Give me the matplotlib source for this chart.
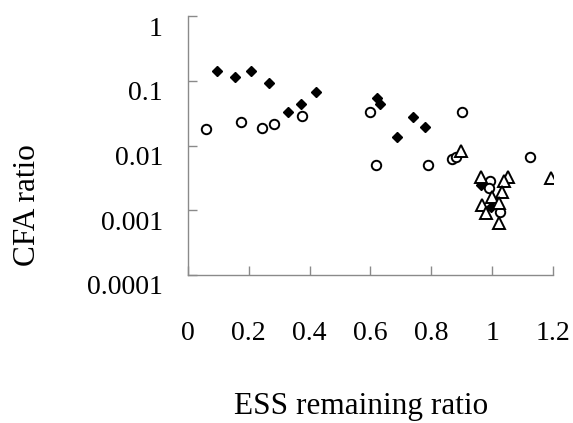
import matplotlib

matplotlib.use("Agg")
import matplotlib.pyplot as plt
import matplotlib.transforms as mtransforms
from matplotlib.ticker import FixedLocator, NullLocator

plt.rcParams["font.family"] = ["Liberation Serif", "DejaVu Serif"]

# series (ESS remaining ratio, CFA ratio)
diamond_x = [0.094, 0.154, 0.206, 0.266, 0.329, 0.373, 0.422, 0.622, 0.630,
             0.740, 0.779, 0.688, 0.962, 0.996]
diamond_y = [0.142, 0.116, 0.143, 0.093, 0.0326, 0.0438, 0.0664, 0.0536, 0.0433,
             0.0279, 0.0195, 0.0137, 0.00245, 0.00113]

circle_x = [0.059, 0.176, 0.242, 0.283, 0.376, 0.597, 0.619, 0.788, 0.901,
            0.867, 0.881, 1.124, 0.993, 0.990, 1.025]
circle_y = [0.018, 0.0233, 0.0188, 0.0215, 0.0286, 0.0333, 0.0050, 0.0050, 0.0333,
            0.0062, 0.0066, 0.0066, 0.00286, 0.00218, 0.00095]

triangle_x = [0.898, 1.194, 0.962, 1.051, 1.039, 1.032, 0.998, 0.966, 1.024,
              0.979, 1.023]
triangle_y = [0.0083, 0.00311, 0.00323, 0.0033, 0.00286, 0.00193, 0.00162, 0.0012,
              0.00128, 0.000897, 0.00063]

x_ticks = [0, 0.2, 0.4, 0.6, 0.8, 1.0, 1.2]
x_labels = ["0", "0.2", "0.4", "0.6", "0.8", "1", "1.2"]
y_ticks = [0.0001, 0.001, 0.01, 0.1, 1]
y_labels = ["0.0001", "0.001", "0.01", "0.1", "1"]

fig = plt.figure(figsize=(5.73, 4.23), dpi=100)
ax = fig.add_axes([0.328, 0.350, 0.637, 0.612])

ax.plot(diamond_x, diamond_y, linestyle="none", marker="D", markersize=5.2,
        color="black", zorder=3)
ax.plot(circle_x, circle_y, linestyle="none", marker="o", markersize=6.8,
        markerfacecolor="white", markeredgecolor="black", markeredgewidth=1.4,
        zorder=4)
ax.plot(triangle_x, triangle_y, linestyle="none", marker="^", markersize=8.5,
        markerfacecolor="white", markeredgecolor="black", markeredgewidth=1.4,
        zorder=5)

ax.set_yscale("log")
ax.set_xlim(0, 1.2)
ax.set_ylim(0.0001, 1)
ax.xaxis.set_major_locator(FixedLocator(x_ticks))
ax.set_xticklabels(x_labels)
ax.yaxis.set_major_locator(FixedLocator(y_ticks))
ax.yaxis.set_minor_locator(NullLocator())
ax.set_yticklabels(y_labels)

for side in ("top", "right"):
    ax.spines[side].set_visible(False)
for side in ("left", "bottom"):
    ax.spines[side].set_color("#8a8a8a")
    ax.spines[side].set_linewidth(1.0)

ax.tick_params(axis="both", direction="in", length=6.5, width=1.0,
               color="#8a8a8a", labelsize=20)
ax.tick_params(axis="x", pad=33)
ax.tick_params(axis="y", pad=18)

# y tick labels sit a little below their ticks in the reference
shift = mtransforms.ScaledTranslation(0, -0.1, fig.dpi_scale_trans)
for label in ax.get_yticklabels():
    label.set_transform(label.get_transform() + shift)

ax.set_xlabel("ESS remaining ratio", fontsize=22.5, va="top")
ax.xaxis.set_label_coords(0.474, -0.452)
ax.set_ylabel("CFA ratio", fontsize=22.5)
ax.yaxis.set_label_coords(-0.40, 0.27)

fig.savefig("out.png", dpi=100)
